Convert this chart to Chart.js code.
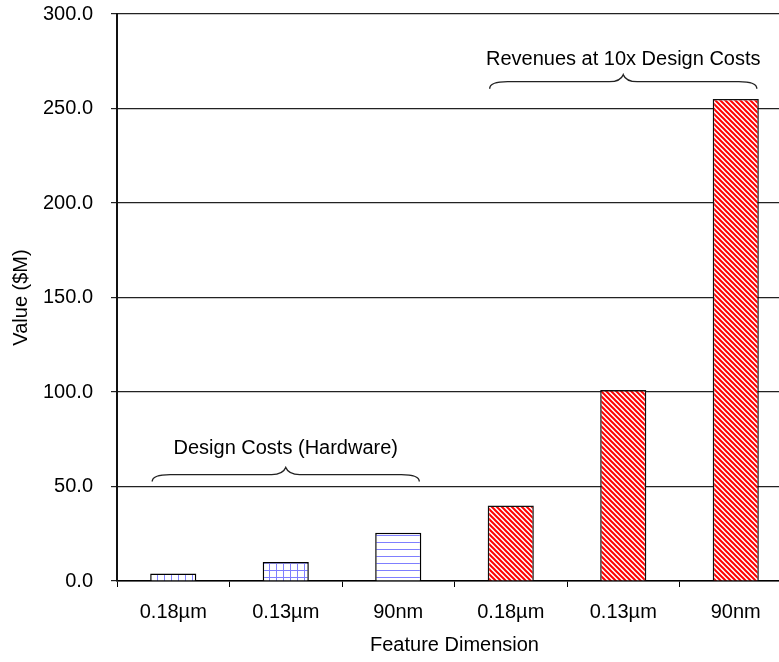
<!DOCTYPE html>
<html>
<head>
<meta charset="utf-8">
<script src="https://cdn.jsdelivr.net/npm/chart.js@4.4.1/dist/chart.umd.min.js"></script>
<style>
  html, body { margin: 0; padding: 0; background: #fff; overflow: hidden; }
  #wrap { position: relative; width: 792px; height: 662px; }
</style>
</head>
<body>
<div id="wrap"><canvas id="c"></canvas></div>
<script>
// Feature dimensions along the x axis (two groups of three)
const categories = ['0.18µm', '0.13µm', '90nm', '0.18µm', '0.13µm', '90nm'];
// Hardware design costs, $M
const designCosts = [4.0, 10.1, 25.5];
// Revenues needed at 10x design costs, $M
const revenues = [40.0, 101.0, 255.0];
// Group captions drawn above curly braces
const groupLabels = ['Design Costs (Hardware)', 'Revenues at 10x Design Costs'];
const yMax = 300;
const yStep = 50;

const FONT = '"Liberation Sans", Arial, Helvetica, sans-serif';

const canvas = document.getElementById('c');
const ctx = canvas.getContext('2d');

function makePattern(w, h, draw) {
  const t = document.createElement('canvas');
  t.width = w; t.height = h;
  const g = t.getContext('2d');
  g.fillStyle = '#ffffff';
  g.fillRect(0, 0, w, h);
  draw(g, w, h);
  return ctx.createPattern(t, 'repeat');
}

const BLUE = '#7f7fff';
const vertLines = makePattern(7, 7, (g, w, h) => {
  g.fillStyle = BLUE; g.fillRect(3, 0, 1, h);
});
const gridLines = makePattern(7, 7, (g, w, h) => {
  g.fillStyle = BLUE; g.fillRect(3, 0, 1, h); g.fillRect(0, 3, w, 1);
});
const horizLines = makePattern(7, 7, (g, w, h) => {
  g.fillStyle = BLUE; g.fillRect(0, 3, w, 1);
});
const redDiag = makePattern(5, 5, (g, w, h) => {
  g.strokeStyle = '#ff0000'; g.lineWidth = 2;
  g.beginPath();
  g.moveTo(-1, -1); g.lineTo(w + 1, h + 1);
  g.moveTo(-2, h - 2); g.lineTo(2, h + 2);
  g.moveTo(w - 2, -2); g.lineTo(w + 2, 2);
  g.stroke();
});

const pad = (arr, before, after) =>
  Array(before).fill(null).concat(arr, Array(after).fill(null));

// Curly braces with captions over each bar group
const braces = {
  id: 'groupBraces',
  afterDatasetsDraw(chart, args, opts) {
    const c = chart.ctx;
    const y = chart.scales.y;
    opts.groups.forEach(gr => {
      const meta = chart.getDatasetMeta(gr.dataset);
      const a = meta.data[gr.from], b = meta.data[gr.to];
      const x0 = a.x - a.width / 2 + 2;
      const x1 = b.x + b.width / 2 - 2;
      const xm = (x0 + x1) / 2;
      const ty = y.getPixelForValue(gr.tip);
      const h = 14, q = 7;
      c.save();
      c.strokeStyle = '#222';
      c.lineWidth = 1.4;
      c.beginPath();
      c.moveTo(x0, ty);
      c.bezierCurveTo(x0, ty - q * 0.7, x0 + 5, ty - q, x0 + 18, ty - q);
      c.lineTo(xm - 14, ty - q);
      c.bezierCurveTo(xm - 6, ty - q, xm - 2, ty - q - 2, xm, ty - h);
      c.bezierCurveTo(xm + 2, ty - q - 2, xm + 6, ty - q, xm + 14, ty - q);
      c.lineTo(x1 - 18, ty - q);
      c.bezierCurveTo(x1 - 5, ty - q, x1, ty - q * 0.7, x1, ty);
      c.stroke();
      c.fillStyle = '#000';
      c.font = '20px ' + FONT;
      c.textAlign = 'center';
      c.textBaseline = 'middle';
      c.fillText(gr.text, xm, y.getPixelForValue(gr.label));
      c.restore();
    });
  }
};

new Chart(ctx, {
  type: 'bar',
  data: {
    labels: categories,
    datasets: [
      {
        label: groupLabels[0],
        data: pad(designCosts, 0, 3),
        backgroundColor: [vertLines, gridLines, horizLines, null, null, null],
        borderColor: '#000',
        borderWidth: 1.5,
        grouped: false,
        categoryPercentage: 1,
        barPercentage: 0.41
      },
      {
        label: groupLabels[1],
        data: pad(revenues, 3, 0),
        backgroundColor: redDiag,
        borderColor: '#111',
        borderWidth: 1.5,
        grouped: false,
        categoryPercentage: 1,
        barPercentage: 0.41
      }
    ]
  },
  options: {
    responsive: true,
    maintainAspectRatio: false,
    animation: false,
    layout: { padding: { top: 14, left: 0, right: 0, bottom: 0 } },
    plugins: {
      legend: { display: false },
      tooltip: { enabled: false },
      groupBraces: {
        groups: [
          { dataset: 0, from: 0, to: 2, tip: 52.6, label: 70, text: groupLabels[0] },
          { dataset: 1, from: 3, to: 5, tip: 260.5, label: 276, text: groupLabels[1] }
        ]
      }
    },
    scales: {
      x: {
        offset: true,
        grid: {
          display: true, offset: true, drawOnChartArea: false,
          drawTicks: true, tickLength: 6, color: '#000', lineWidth: 1
        },
        border: { display: true, color: '#000', width: 1.5 },
        ticks: { color: '#000', font: { family: FONT, size: 20 }, padding: 13, maxRotation: 0, autoSkip: false },
        title: {
          display: true, text: 'Feature Dimension', color: '#000',
          font: { family: FONT, size: 20 }, padding: 5
        },
        afterFit(s) { s.height = 81; s.paddingLeft = 0; s.paddingRight = 0; }
      },
      y: {
        min: 0, max: yMax,
        ticks: {
          stepSize: yStep, color: '#000', font: { family: FONT, size: 20 }, padding: 18,
          callback: v => v.toFixed(1)
        },
        grid: { color: '#222', lineWidth: 1.2, tickLength: 6, drawTicks: true },
        border: { display: true, color: '#111', width: 2 },
        title: {
          display: true, text: 'Value ($M)', color: '#000',
          font: { family: FONT, size: 20 }, padding: 9
        },
        afterFit(s) { s.width = 117; s.paddingTop = 0; s.paddingBottom = 0; }
      }
    }
  },
  plugins: [braces]
});
</script>
</body>
</html>
